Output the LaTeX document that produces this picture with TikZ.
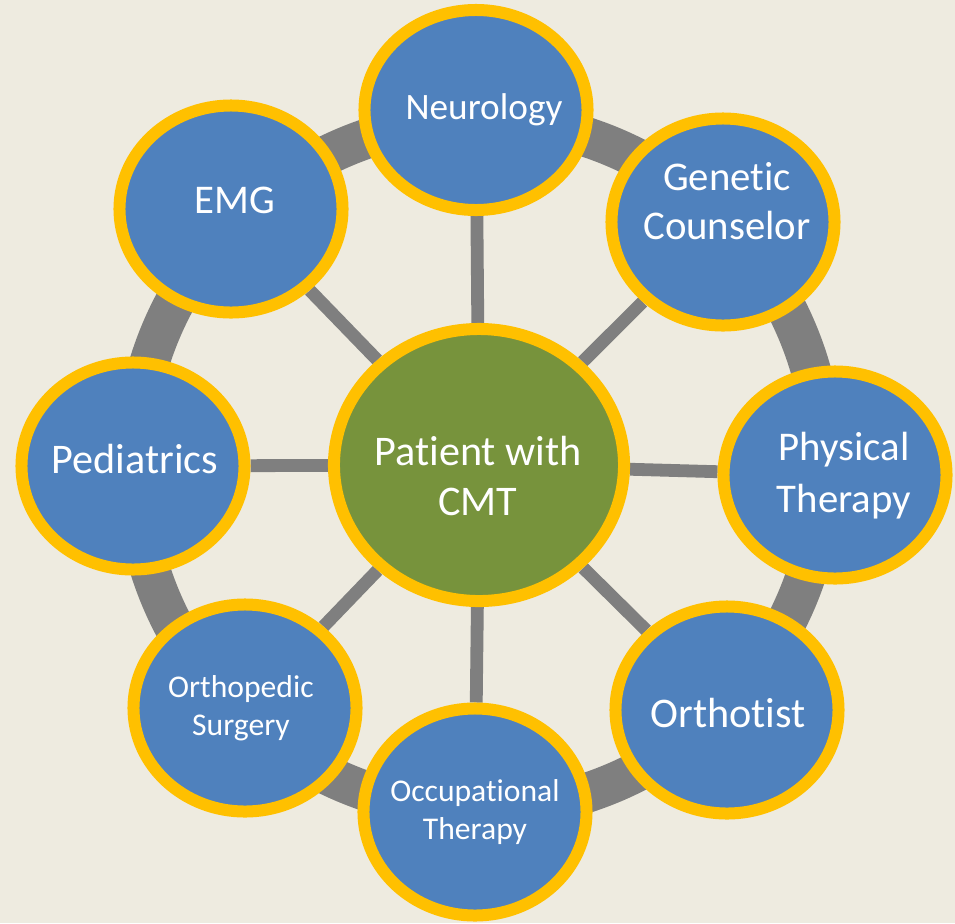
\documentclass[tikz,border=0pt]{standalone}
\usepackage{fontspec}
\setmainfont{Carlito}[RawFeature={-liga,-clig,-dlig,-calt}]
\usepackage{tikz}
\usetikzlibrary{shapes.geometric,backgrounds}
\definecolor{cmtbg}{HTML}{EEEBE0}
\definecolor{cmtblue}{HTML}{4F81BD}
\definecolor{cmtyellow}{HTML}{FFC000}
\definecolor{cmtgreen}{HTML}{77933C}
\definecolor{cmtgray}{HTML}{7F7F7F}

\begin{document}
\begin{tikzpicture}[
    x=0.025cm, y=-0.025cm,
    unit/.style={ellipse, draw=cmtyellow, fill=cmtblue, line width=0.3cm, minimum width=5.575cm, minimum height=5.175cm},
    hub/.style={ellipse, draw=cmtyellow, fill=cmtgreen, line width=0.3cm, minimum width=7.25cm, minimum height=6.8cm},
    lbl/.style={text=white, align=center, inner sep=0pt},
    spoke/.style={draw=cmtgray, line width=0.32cm},
    ring/.style={draw=cmtgray, line width=1cm}
]
    \useasboundingbox (0,0) rectangle (955,923);

    % Patient in the middle
    \node[hub] (patient) at (479,465) {};
    \node[lbl, font=\fontsize{30pt}{36pt}\selectfont] (patient-t) at (478,476) {Patient with\\CMT};

    % Care team around the patient
    \node[unit, minimum height=5cm] (neuro) at (476,110) {};
    \node[lbl, font=\fontsize{26.5pt}{32pt}\selectfont] (neuro-t) at (484,110) {Neurology};
    \node[unit] (gen) at (723,222) {};
    \node[lbl, font=\fontsize{29pt}{35pt}\selectfont] (gen-t) at (727,201) {Genetic\\Counselor};
    \node[unit] (phys) at (835,475) {};
    \node[lbl, font=\fontsize{29pt}{37pt}\selectfont] (phys-t) at (844,476) {Physical\\Therapy};
    \node[unit] (orth) at (727,710) {};
    \node[lbl, font=\fontsize{30pt}{36pt}\selectfont] (orth-t) at (728,713) {Orthotist};
    \node[unit] (occ) at (475,812) {};
    \node[lbl, font=\fontsize{22.5pt}{27pt}\selectfont] (occ-t) at (475,812) {Occupational\\Therapy};
    \node[unit] (ortho) at (245,708) {};
    \node[lbl, font=\fontsize{22.5pt}{27pt}\selectfont] (ortho-t) at (241,708) {Orthopedic\\Surgery};
    \node[unit] (ped) at (133,466) {};
    \node[lbl, font=\fontsize{30pt}{36pt}\selectfont] (ped-t) at (135,459) {Pediatrics};
    \node[unit] (emg) at (231,209) {};
    \node[lbl, font=\fontsize{29pt}{35pt}\selectfont] (emg-t) at (235,200) {EMG};

    \begin{scope}[on background layer]
        \fill[cmtbg] (0,0) rectangle (955,923);
        % outer ring
        \draw[ring] (patient.center) circle[radius=345];
        % spokes
        \draw[spoke] (patient) -- (neuro);
        \draw[spoke] (patient) -- (gen);
        \draw[spoke] (patient) -- (phys);
        \draw[spoke] (patient) -- (orth);
        \draw[spoke] (patient) -- (occ);
        \draw[spoke] (patient) -- (ortho);
        \draw[spoke] (patient) -- (ped);
        \draw[spoke] (patient) -- (emg);
    \end{scope}
\end{tikzpicture}
\end{document}
